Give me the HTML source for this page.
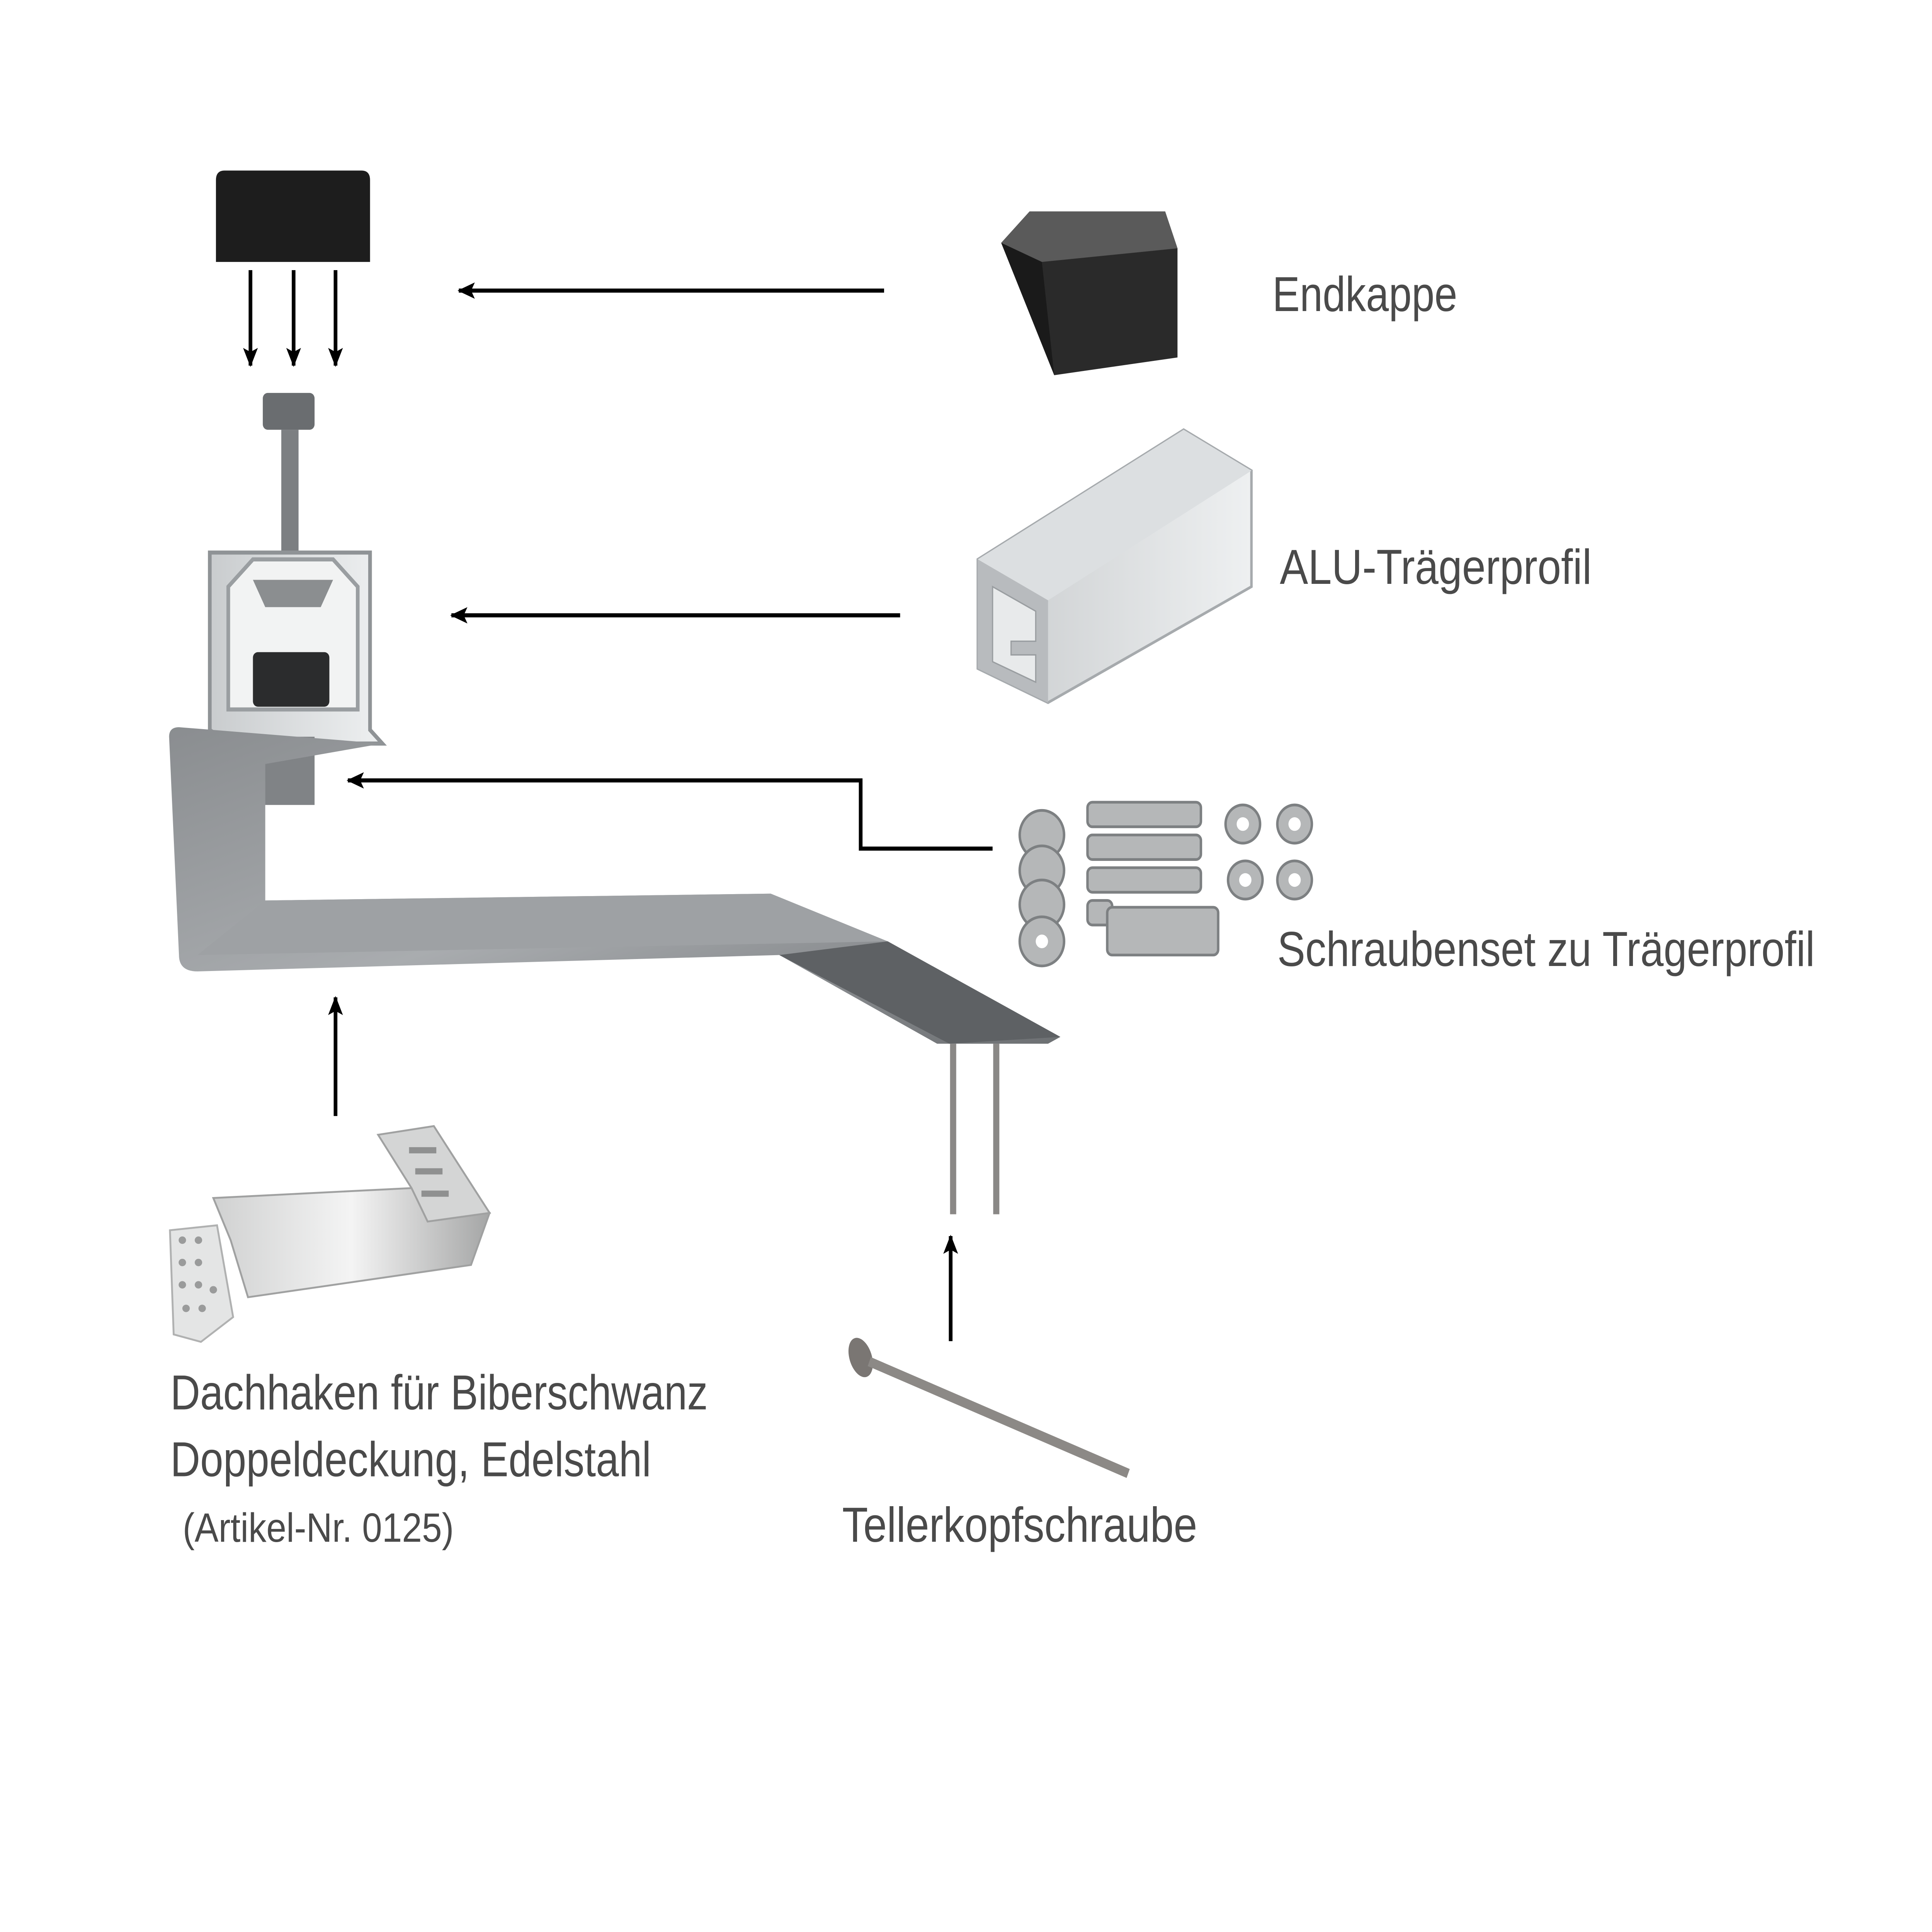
<!DOCTYPE html>
<html><head><meta charset="utf-8"><style>
html,body{margin:0;padding:0;background:#fff;width:5586px;height:5040px;overflow:hidden;}
svg{display:block;vertical-align:top;}
text{font-family:"Liberation Sans Narrow","Liberation Sans",sans-serif;fill:#4a4a4a;}
</style></head><body>
<svg width="5586" height="5040" viewBox="0 0 1558 1406" xmlns="http://www.w3.org/2000/svg">
<defs>
<marker id="ah" markerWidth="14" markerHeight="12" refX="13" refY="6" orient="auto" markerUnits="userSpaceOnUse">
<path d="M0,0 L14,6 L0,12 L3,6 Z" fill="#000"/></marker>
<linearGradient id="steel" x1="0" y1="0" x2="1" y2="1"><stop offset="0" stop-color="#8a8d90"/><stop offset="0.5" stop-color="#a9acaf"/><stop offset="1" stop-color="#6d7073"/></linearGradient>
<linearGradient id="alu" x1="0" y1="0" x2="1" y2="0"><stop offset="0" stop-color="#c9ccce"/><stop offset="1" stop-color="#eef0f1"/></linearGradient>
<linearGradient id="ss" x1="0" y1="0" x2="1" y2="0"><stop offset="0" stop-color="#d0d1d1"/><stop offset="0.5" stop-color="#f4f4f4"/><stop offset="1" stop-color="#a5a6a6"/></linearGradient>
</defs>
<g transform="scale(0.89,0.985)">
<path d="M175,192 L175,132 Q175,125 182,125 L293,125 Q300,125 300,132 L300,192 Z" fill="#1d1d1d"/>
<g stroke="#000" stroke-width="3" marker-end="url(#ah)">
<line x1="203" y1="198" x2="203" y2="268"/>
<line x1="238" y1="198" x2="238" y2="268"/>
<line x1="272" y1="198" x2="272" y2="268"/>
<line x1="717" y1="213" x2="372" y2="213"/>
<line x1="730" y1="451" x2="366" y2="451"/>
<polyline points="805,622 698,622 698,572 282,572" fill="none"/>
<line x1="272" y1="818" x2="272" y2="731"/>
<line x1="771" y1="983" x2="771" y2="906"/>
</g>

<path d="M812,178 L835,155 L945,155 L955,182 L955,262 L855,275 Z" fill="#2a2a2a"/>
<path d="M812,178 L835,155 L945,155 L955,182 L845,192 Z" fill="#5a5a5a"/>
<path d="M812,178 L845,192 L855,275 Z" fill="#1a1a1a"/>
<text x="1032" y="228" font-size="36" textLength="150" lengthAdjust="spacingAndGlyphs">Endkappe</text>

<rect x="213" y="288" width="42" height="27" rx="4" fill="#6a6d70"/>
<rect x="228" y="315" width="14" height="100" fill="#7c7f82"/>
<path d="M170,405 L300,405 L300,535 L310,545 L185,545 L170,535 Z" fill="url(#alu)" stroke="#8f9396" stroke-width="3"/>
<path d="M185,430 L205,410 L270,410 L290,430 L290,520 L185,520 Z" fill="#f2f3f3" stroke="#9a9ea1" stroke-width="3"/>
<path d="M205,425 L270,425 L260,445 L215,445 Z" fill="#8b8e90"/>
<rect x="205" y="478" width="62" height="40" rx="4" fill="#2b2c2d"/>
<rect x="215" y="540" width="40" height="50" fill="#808386"/>

<path d="M137,540 Q137,533 145,533 L310,545 L215,560 L215,660 L625,655 L720,690 L860,760 L850,765 L760,765 L632,700 L160,712 Q145,712 145,700 Z" fill="url(#steel)"/>
<path d="M632,700 L720,690 L860,760 L770,765 Z" fill="#5e6164"/>
<path d="M215,660 L625,655 L720,690 L160,700 Z" fill="#9ea1a4"/>
<line x1="773" y1="765" x2="773" y2="890" stroke="#8a8886" stroke-width="5"/>
<line x1="808" y1="765" x2="808" y2="890" stroke="#8a8886" stroke-width="5"/>

<path d="M793,410 L960,315 L1015,345 L1015,430 L850,515 L793,490 Z" fill="url(#alu)" stroke="#a6aaad" stroke-width="2"/>
<path d="M793,410 L960,315 L1015,345 L850,440 Z" fill="#dcdfe1"/>
<path d="M793,410 L850,440 L850,515 L793,490 Z" fill="#b8bbbe"/>
<path d="M805,430 L840,448 L840,470 L820,470 L820,480 L840,480 L840,500 L805,485 Z" fill="#e8eaeb" stroke="#9a9ea1"/>
<text x="1038" y="428" font-size="36" textLength="253" lengthAdjust="spacingAndGlyphs">ALU-Trägerprofil</text>

<g fill="#b5b7b8" stroke="#7d8082" stroke-width="2">
<circle cx="845" cy="612" r="18"/><circle cx="845" cy="638" r="18"/><circle cx="845" cy="663" r="18"/><circle cx="845" cy="690" r="18"/>
<rect x="882" y="588" width="92" height="18" rx="4"/><rect x="882" y="612" width="92" height="18" rx="4"/>
<rect x="882" y="636" width="92" height="18" rx="4"/><rect x="882" y="660" width="20" height="18" rx="4"/>
<circle cx="1008" cy="604" r="14"/><circle cx="1050" cy="604" r="14"/><circle cx="1010" cy="645" r="14"/><circle cx="1050" cy="645" r="14"/>
<rect x="898" y="665" width="90" height="35" rx="4"/>
</g>
<g fill="#fff"><circle cx="845" cy="690" r="5"/><circle cx="1008" cy="604" r="5"/><circle cx="1050" cy="604" r="5"/><circle cx="1010" cy="645" r="5"/><circle cx="1050" cy="645" r="5"/></g>
<text x="1036" y="708" font-size="36" textLength="436" lengthAdjust="spacingAndGlyphs">Schraubenset zu Trägerprofil</text>

<g transform="scale(1.005,0.909)">
<path d="M137,992 L175,988 L188,1062 L162,1082 L140,1076 Z" fill="#e4e5e5" stroke="#b0b1b1" stroke-width="1.5"/>
<g fill="#9a9b9b"><circle cx="147" cy="1000" r="3"/><circle cx="160" cy="1000" r="3"/><circle cx="147" cy="1018" r="3"/><circle cx="160" cy="1018" r="3"/><circle cx="147" cy="1036" r="3"/><circle cx="160" cy="1036" r="3"/><circle cx="150" cy="1055" r="3"/><circle cx="163" cy="1055" r="3"/><circle cx="172" cy="1040" r="3"/></g>
<path d="M172,966 L332,958 L395,978 L380,1020 L200,1046 L186,1000 Z" fill="url(#ss)" stroke="#a0a1a1" stroke-width="1.5"/>
<path d="M305,915 L350,908 L395,978 L345,985 L332,958 Z" fill="#d4d5d5" stroke="#a0a1a1" stroke-width="1.5"/>
<g fill="#8f9090"><rect x="330" y="925" width="22" height="5"/><rect x="335" y="942" width="22" height="5"/><rect x="340" y="960" width="22" height="5"/></g>
</g>
<text x="138" y="1033" font-size="36" textLength="436" lengthAdjust="spacingAndGlyphs">Dachhaken für Biberschwanz</text>
<text x="138" y="1082" font-size="36" textLength="390" lengthAdjust="spacingAndGlyphs">Doppeldeckung, Edelstahl</text>
<text x="148" y="1130" font-size="30" textLength="220" lengthAdjust="spacingAndGlyphs">(Artikel-Nr. 0125)</text>

<ellipse cx="698" cy="995" rx="9" ry="15" fill="#7a7673" transform="rotate(-20 698 995)"/>
<line x1="705" y1="998" x2="915" y2="1080" stroke="#8c8986" stroke-width="7"/>
<text x="683" y="1130" font-size="36" textLength="288" lengthAdjust="spacingAndGlyphs">Tellerkopfschraube</text>
</g>
</svg>
</body></html>
